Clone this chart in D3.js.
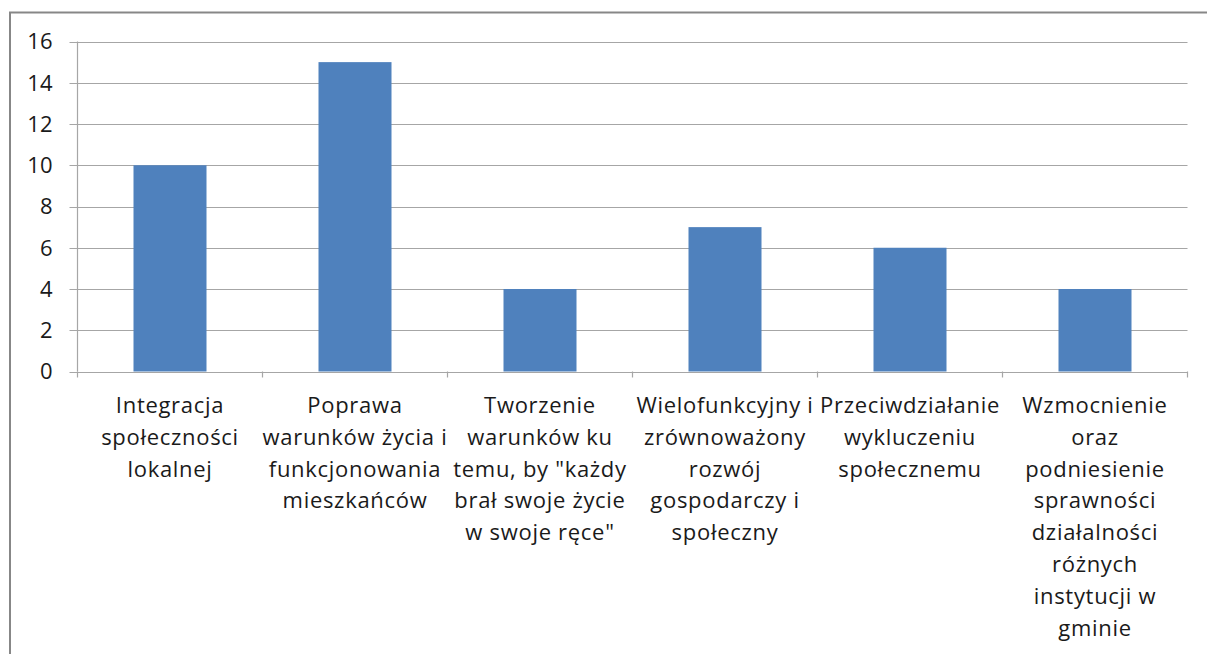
<!DOCTYPE html>
<html><head><meta charset="utf-8">
<script src="https://cdn.jsdelivr.net/npm/d3@7"></script>
<style>body{margin:0;background:#fff;}svg{display:block;font-family:"Open Sans",sans-serif;}</style>
</head><body>
<svg id="c" width="1207" height="654"></svg>
<script>
const categories = [
  "Integracja\nspołeczności\nlokalnej",
  "Poprawa\nwarunków życia i\nfunkcjonowania\nmieszkańców",
  "Tworzenie\nwarunków ku\ntemu, by \"każdy\nbrał swoje życie\nw swoje ręce\"",
  "Wielofunkcyjny i\nzrównoważony\nrozwój\ngospodarczy i\nspołeczny",
  "Przeciwdziałanie\nwykluczeniu\nspołecznemu",
  "Wzmocnienie\noraz\npodniesienie\nsprawności\ndziałalności\nróżnych\ninstytucji w\ngminie"
];
const values = [10, 15, 4, 7, 6, 4];
const yTicks = [0, 2, 4, 6, 8, 10, 12, 14, 16];

(function(){
const svg = d3.select("#c");
svg.append("rect").attr("x", 10).attr("y", 12.5).attr("width", 1210).attr("height", 660)
  .attr("fill", "none").attr("stroke", "#878787").attr("stroke-width", 2);

const pL = 77.5, pR = 1187.5, pT = 41.5, pB = 371.5;
const x = d3.scaleBand().domain(d3.range(categories.length)).range([pL, pR]).paddingInner(0).paddingOuter(0);
const y = d3.scaleLinear().domain([0, 16]).range([pB, pT]);

svg.append("g").selectAll("line").data(yTicks).join("line")
  .attr("x1", pL - 8).attr("x2", pR)
  .attr("y1", d => Math.round(y(d)) + 0.5).attr("y2", d => Math.round(y(d)) + 0.5)
  .attr("stroke", "#a6a6a6").attr("stroke-width", 1.2);

svg.append("line").attr("x1", pL).attr("x2", pL).attr("y1", pT).attr("y2", pB)
  .attr("stroke", "#a6a6a6").attr("stroke-width", 1.2);

const fs = 22, ls = 0.7, col = "#1a1a1a";
svg.append("g").selectAll("text").data(yTicks).join("text")
  .attr("x", 53).attr("y", d => y(d)).attr("dy", "0.36em")
  .attr("text-anchor", "end").attr("font-size", fs).attr("letter-spacing", 0.3).attr("fill", col)
  .text(d => d);

const xt = d3.range(categories.length + 1).map(i => pL + i * x.bandwidth());
svg.append("g").selectAll("line").data(xt).join("line")
  .attr("x1", d => d).attr("x2", d => d).attr("y1", pB).attr("y2", pB + 6)
  .attr("stroke", "#a6a6a6").attr("stroke-width", 1.2);

const bw = 73;
svg.append("g").selectAll("rect").data(values).join("rect")
  .attr("x", (d, i) => x(i) + (x.bandwidth() - bw) / 2)
  .attr("width", bw)
  .attr("y", d => y(d))
  .attr("height", d => y(0) - y(d))
  .attr("fill", "#4f81bd");

const lab = svg.append("g").selectAll("text").data(categories).join("text")
  .attr("text-anchor", "middle").attr("font-size", fs).attr("letter-spacing", ls).attr("fill", col);
lab.each(function(d, i) {
  const t = d3.select(this);
  d.split("\n").forEach((ln, k) => {
    t.append("tspan").attr("x", x(i) + x.bandwidth() / 2).attr("y", 413 + k * 31.8).text(ln);
  });
});
})();
</script>
</body></html>
